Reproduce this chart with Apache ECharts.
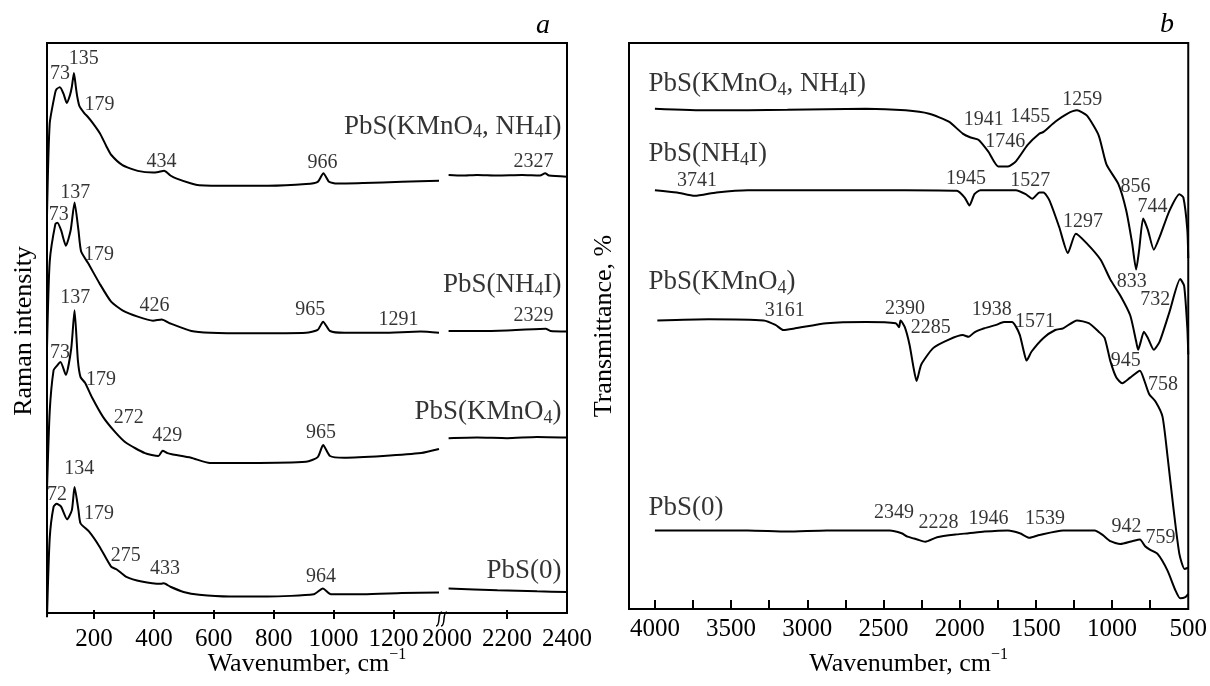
<!DOCTYPE html>
<html><head><meta charset="utf-8">
<script src="https://cdn.jsdelivr.net/npm/echarts@6/dist/echarts.min.js"></script>
<style>html,body{margin:0;padding:0;background:#fff}#c{width:1210px;height:686px}</style>
</head><body><div id="c"></div>
<script>
// ---------- Panel a : Raman spectra (wavenumber, intensity a.u. with stacking offsets) ----------
const ramanTicksLow = [200, 400, 600, 800, 1000, 1200];
const ramanTicksHigh = [2200];
const ramanTickLabelsHigh = [2000, 2200, 2400];

const ramanKN_low = [[43,70.0],[52,86.0],[70,91.3],[75,92.0],[86,92.3],[98,91.2],[109,89.6],[120,91.0],[126,92.4],[133,94.8],[139,92.5],[144,90.7],[151,89.1],[168,87.8],[179,87.2],[196,86.1],[220,84.3],[242,82.0],[257,80.6],[295,78.8],[346,77.8],[397,77.5],[415,77.6],[434,77.8],[455,77.0],[474,76.5],[525,75.6],[551,75.3],[653,75.2],[781,75.2],[908,75.5],[947,75.9],[966,77.4],[985,75.9],[1011,75.6],[1100,75.7],[1228,75.9],[1352,76.1]];
const ramanKN_high = [[2005,77.1],[2050,77.0],[2100,77.1],[2168,77.0],[2250,77.1],[2310,77.0],[2327,77.4],[2340,77.0],[2400,76.8]];

const ramanN_low = [[43,47.0],[52,62.0],[71,68.6],[78,68.8],[90,67.5],[106,64.8],[122,67.5],[135,72.3],[148,67.5],[157,63.8],[180,61.8],[218,58.3],[257,55.1],[295,53.6],[346,52.5],[397,51.8],[426,52.0],[455,51.3],[525,50.0],[589,49.7],[717,49.6],[908,49.7],[947,50.2],[965,51.6],[988,50.0],[1036,49.7],[1164,49.7],[1291,49.9],[1352,49.7]];
const ramanN_high = [[2005,50.0],[2100,50.0],[2200,50.1],[2329,50.4],[2345,50.0],[2400,49.9]];

const ramanK_low = [[43,22.4],[52,36.0],[65,43.2],[75,43.9],[88,44.6],[106,42.4],[124,47.0],[135,53.6],[146,45.0],[155,42.0],[170,41.0],[193,38.5],[230,35.1],[270,32.5],[307,30.6],[370,28.8],[415,28.3],[429,29.2],[445,28.8],[460,28.6],[524,28.0],[587,27.1],[717,27.1],[908,27.3],[947,28.1],[965,30.2],[988,28.3],[1035,28.0],[1165,28.3],[1292,28.8],[1352,29.5]];
const ramanK_high = [[2005,31.4],[2100,31.5],[2200,31.4],[2300,31.6],[2400,31.5]];

const raman0_low = [[43,0.3],[52,14.0],[65,19.5],[75,20.0],[90,19.5],[110,17.3],[126,18.9],[135,22.9],[148,18.9],[155,16.6],[183,15.2],[218,12.6],[257,9.1],[276,8.6],[308,7.3],[359,6.5],[423,6.1],[433,6.2],[455,5.6],[499,4.7],[551,4.2],[653,3.9],[781,3.9],[934,4.3],[964,5.3],[991,4.3],[1100,4.3],[1228,4.5],[1352,4.6]];
const raman0_high = [[2005,5.3],[2168,5.0],[2300,4.8],[2400,4.7]];

const ramanPeakLabelsLow = [
  [88,94.6,'73'],[167,97.2,'135'],[220,89.2,'179'],[427,79.3,'434'],[965,79.2,'966'],
  [139,74.0,'137'],[84,70.1,'73'],[218,63.2,'179'],[404,54.3,'426'],[924,53.6,'965'],[1218,51.8,'1291'],
  [139,55.7,'137'],[88,46.1,'73'],[225,41.4,'179'],[318,34.9,'272'],[446,31.8,'429'],[960,32.2,'965'],
  [152,26.0,'134'],[78,21.5,'72'],[218,18.1,'179'],[308,10.9,'275'],[439,8.6,'433'],[960,7.3,'964']
];
const ramanPeakLabelsHigh = [[2290,79.3,'2327'],[2290,52.5,'2329']];
const ramanSeriesNames = [[2383,85.4,'PbS(KMnO_4, NH_4I)'],[2383,58.0,'PbS(NH_4I)'],[2383,35.8,'PbS(KMnO_4)'],[2383,8.2,'PbS(0)']];

// ---------- Panel b : FTIR transmittance ----------
const ftirTicks = [750,1000,1250,1500,1750,2000,2250,2500,2750,3000,3250,3500,3750,4000];
const ftirTickLabels = [500,1000,1500,2000,2500,3000,3500,4000];

const ftirKN = [[4000,88.4],[3648,88.1],[3131,88.2],[2614,88.4],[2355,88.1],[2200,87.5],[2071,86.1],[1980,84.0],[1928,83.3],[1877,82.9],[1812,80.8],[1747,78.2],[1683,78.2],[1631,79.1],[1554,82.0],[1476,84.0],[1450,84.3],[1373,86.1],[1295,87.5],[1230,88.1],[1166,87.2],[1088,83.7],[1036,78.5],[959,75.1],[907,70.4],[868,64.6],[842,60.0],[822,63.5],[796,69.0],[765,67.0],[726,63.5],[687,65.8],[623,70.4],[558,73.3],[532,72.7],[506,67.0],[500,62.0]];
const ftirN = [[4000,74.0],[3855,73.6],[3739,73.0],[3596,73.6],[3390,74.0],[2872,74.0],[2355,74.0],[2019,73.9],[1967,72.7],[1936,71.3],[1903,73.3],[1864,74.0],[1631,74.0],[1567,73.3],[1523,72.5],[1476,73.6],[1450,73.6],[1411,72.2],[1347,67.5],[1290,62.9],[1238,66.3],[1166,64.6],[1075,61.7],[1011,58.2],[946,55.4],[881,51.9],[842,47.3],[829,45.8],[811,47.3],[791,49.0],[765,47.9],[726,45.8],[687,47.3],[623,52.5],[553,58.3],[527,57.1],[506,49.6],[500,45.0]];
const ftirK = [[3984,51.0],[3648,51.2],[3286,51.0],[3209,50.2],[3157,49.3],[3079,49.6],[2872,50.5],[2614,50.7],[2420,50.5],[2398,49.8],[2388,51.0],[2360,49.8],[2329,46.7],[2303,42.7],[2283,40.3],[2252,43.2],[2174,46.1],[2071,47.6],[1980,48.4],[1941,48.1],[1903,48.9],[1838,49.6],[1760,50.2],[1709,50.7],[1657,50.7],[1631,49.9],[1605,48.4],[1579,45.5],[1561,43.9],[1528,45.5],[1450,47.9],[1373,49.3],[1321,49.6],[1230,51.0],[1153,50.5],[1088,49.0],[1049,47.9],[1011,43.8],[972,40.9],[933,39.9],[881,40.9],[817,42.1],[791,40.6],[757,38.0],[713,36.6],[669,34.0],[636,27.0],[597,17.8],[558,9.7],[524,7.1],[500,7.3]];
const ftir0 = [[4000,13.9],[3390,13.9],[3131,13.7],[2872,13.9],[2459,13.9],[2381,13.4],[2342,12.8],[2278,12.3],[2226,11.9],[2148,12.7],[2019,13.2],[1941,13.4],[1838,13.7],[1683,13.9],[1605,13.4],[1541,12.6],[1476,13.1],[1321,13.9],[1114,13.9],[1062,13.1],[1011,12.0],[946,11.5],[868,12.0],[817,12.3],[783,11.1],[752,10.5],[700,9.7],[636,6.8],[584,3.3],[553,1.9],[519,2.1],[500,2.7]];

const ftirPeakLabels = [
  [1838,86.3,'1941'],[1533,86.9,'1455'],[1193,89.8,'1259'],[1697,82.5,'1746'],[843,74.6,'856'],[732,71.0,'744'],
  [3720,75.5,'3741'],[1955,75.9,'1945'],[1533,75.6,'1527'],[1187,68.4,'1297'],[868,57.7,'833'],[713,54.5,'732'],
  [3144,52.6,'3161'],[2355,52.9,'2390'],[2187,49.6,'2285'],[1786,52.8,'1938'],[1502,50.7,'1571'],[907,43.8,'945'],[662,39.5,'758'],
  [2427,16.9,'2349'],[2135,15.2,'2228'],[1807,15.9,'1946'],[1437,15.9,'1539'],[902,14.4,'942'],[679,12.6,'759']
];
const ftirSeriesNames = [[4039,92.7,'PbS(KMnO_4, NH_4I)'],[4039,80.3,'PbS(NH_4I)'],[4039,57.7,'PbS(KMnO_4)'],[4039,17.8,'PbS(0)']];

// ---------- chart ----------
const FONT = '"Liberation Serif","Times New Roman",serif';
const chart = echarts.init(document.getElementById('c'), null, {renderer: 'canvas'});
const subRich = { sub: { fontSize: 18, fontFamily: FONT, color: '#000', verticalAlign: 'bottom', lineHeight: 18 } };
const supRich = { sup: { fontSize: 16, fontFamily: FONT, color: '#000', verticalAlign: 'top', lineHeight: 16 } };
const fmtName = s => s.replace(/_(\d)/g, '{sub|$1}');
const plain = v => String(v);

function line(data, xi, yi) {
  return { type: 'line', data, xAxisIndex: xi, yAxisIndex: yi, showSymbol: false, smooth: 0.2,
    lineStyle: { color: '#000', width: 2 }, silent: true, animation: false, z: 3 };
}
function labels(arr, xi, yi, align, size, isName) {
  return { type: 'scatter', xAxisIndex: xi, yAxisIndex: yi, symbolSize: 1, silent: true, animation: false,
    itemStyle: { color: 'rgba(0,0,0,0)' }, clip: false, z: 5,
    data: arr.map(d => ({ value: [d[0], d[1]], label: { formatter: isName ? fmtName(d[2]) : d[2] } })),
    label: { show: true, position: [0, 0], align: align, verticalAlign: 'middle', color: '#000',
      fontFamily: FONT, fontSize: size, lineHeight: isName ? 30 : size, rich: subRich } };
}
const tickStyle = { show: true, inside: true, length: 9, lineStyle: { color: '#000', width: 2 } };
const labStyle = { color: '#000', fontFamily: FONT, fontSize: 25, margin: 8, formatter: plain };
const hiddenY = { type: 'value', min: 0, max: 100, axisLine: { show: false }, axisTick: { show: false }, axisLabel: { show: false }, splitLine: { show: false } };
const nameStyle = { color: '#000', fontFamily: FONT, fontSize: 26, lineHeight: 34, rich: supRich };

chart.setOption({
  animation: false,
  textStyle: { fontFamily: FONT, color: '#000' },
  grid: [
    { left: 47, top: 43, width: 395, height: 576 },
    { left: 442, top: 43, width: 125, height: 576 },
    { left: 47, top: 43, width: 520, height: 576, show: true, borderColor: '#000', borderWidth: 2, backgroundColor: 'transparent' },
    { left: 629, top: 43, width: 561, height: 576, show: true, borderColor: '#000', borderWidth: 2, backgroundColor: 'transparent' }
  ],
  xAxis: [
    { type: 'value', gridIndex: 0, min: 43, max: 1362, axisLine: { show: false }, splitLine: { show: false },
      axisTick: Object.assign({ customValues: ramanTicksLow }, tickStyle),
      axisLabel: Object.assign({ customValues: ramanTicksLow }, labStyle) },
    { type: 'value', gridIndex: 1, min: 1983, max: 2400, axisLine: { show: false }, splitLine: { show: false },
      axisTick: Object.assign({ customValues: ramanTicksHigh }, tickStyle),
      axisLabel: Object.assign({ customValues: ramanTickLabelsHigh }, labStyle) },
    { type: 'value', gridIndex: 2, min: 0, max: 1, axisLine: { show: false }, axisTick: { show: false }, axisLabel: { show: false }, splitLine: { show: false },
      name: 'Wavenumber, cm{sup|\u22121}', nameLocation: 'middle', nameGap: 34, nameTextStyle: nameStyle },
    { type: 'value', gridIndex: 3, inverse: true, min: 500, max: 4170, axisLine: { show: false }, splitLine: { show: false },
      axisTick: Object.assign({ customValues: ftirTicks }, tickStyle),
      axisLabel: Object.assign({ customValues: ftirTickLabels }, labStyle),
      name: 'Wavenumber, cm{sup|\u22121}', nameLocation: 'middle', nameGap: 34, nameTextStyle: nameStyle }
  ],
  yAxis: [
    Object.assign({ gridIndex: 0, name: 'Raman intensity', nameLocation: 'middle', nameGap: 10, nameTextStyle: { color: '#000', fontFamily: FONT, fontSize: 26 } }, hiddenY),
    Object.assign({ gridIndex: 1 }, hiddenY),
    Object.assign({ gridIndex: 2 }, hiddenY),
    Object.assign({ gridIndex: 3, name: 'Transmittance, %', nameLocation: 'middle', nameGap: 12, nameTextStyle: { color: '#000', fontFamily: FONT, fontSize: 26 } }, hiddenY)
  ],
  series: [
    line(ramanKN_low, 0, 0), line(ramanKN_high, 1, 1),
    line(ramanN_low, 0, 0), line(ramanN_high, 1, 1),
    line(ramanK_low, 0, 0), line(ramanK_high, 1, 1),
    line(raman0_low, 0, 0), line(raman0_high, 1, 1),
    line(ftirKN, 3, 3), line(ftirN, 3, 3), line(ftirK, 3, 3), line(ftir0, 3, 3),
    labels(ramanPeakLabelsLow, 0, 0, 'center', 20, false),
    labels(ramanPeakLabelsHigh, 1, 1, 'center', 20, false),
    labels(ramanSeriesNames, 1, 1, 'right', 27, true),
    labels(ftirPeakLabels, 3, 3, 'center', 20, false),
    labels(ftirSeriesNames, 3, 3, 'left', 27, true)
  ],
  graphic: [
    { type: 'text', left: 536, top: 12, style: { text: 'a', font: 'italic 28px ' + FONT, fill: '#000' } },
    { type: 'text', left: 1160, top: 11, style: { text: 'b', font: 'italic 28px ' + FONT, fill: '#000' } },
    { type: 'rect', shape: { x: 438, y: 616, width: 10, height: 6 }, style: { fill: '#fff' }, z: 100 },
    { type: 'bezierCurve', shape: { x1: 436, y1: 626, cpx1: 441, cpy1: 626, cpx2: 437, cpy2: 612, x2: 442, y2: 612 }, style: { stroke: '#000', lineWidth: 1.5, fill: null }, z: 101 },
    { type: 'bezierCurve', shape: { x1: 441, y1: 626, cpx1: 446, cpy1: 626, cpx2: 442, cpy2: 612, x2: 447, y2: 612 }, style: { stroke: '#000', lineWidth: 1.5, fill: null }, z: 101 }
  ]
});
</script>
</body></html>
